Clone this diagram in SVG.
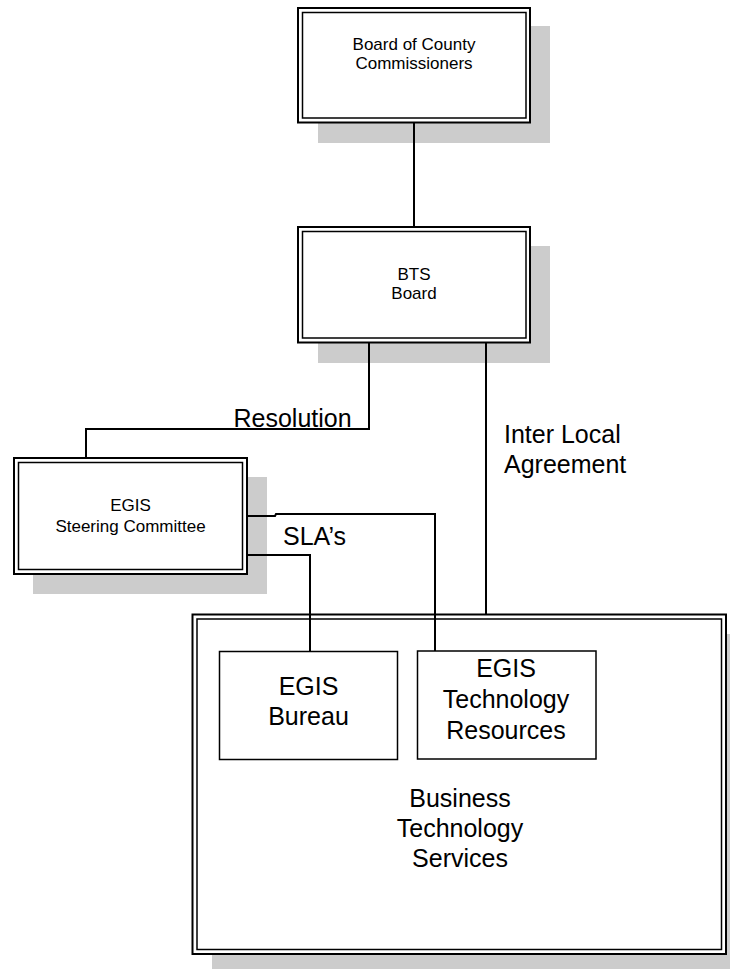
<svg xmlns="http://www.w3.org/2000/svg" width="730" height="969" viewBox="0 0 730 969">
<style>
.bg{fill:#ffffff}
.shadow{fill:#cccccc;stroke:none}
.outer{fill:#ffffff;stroke:#000;stroke-width:2}
.inner{fill:none;stroke:#000;stroke-width:1.5}
.box{fill:#ffffff;stroke:#000;stroke-width:1.5}
.conn{fill:none;stroke:#000;stroke-width:2}
text{font-family:"Liberation Sans",Arial,sans-serif;fill:#000}
.s{font-size:17px;text-anchor:middle}
.l{font-size:25px;text-anchor:middle}
.lab{font-size:25px}
</style>
<rect class="bg" x="0" y="0" width="730" height="969"/>

<g id="board-of-county-commissioners">
<rect class="shadow" x="318" y="26" width="232" height="117"/>
<rect class="outer" x="298" y="8" width="232" height="114.5"/>
<rect class="inner" x="302.5" y="12.5" width="223.5" height="105.5"/>
<text class="s" x="414" y="50">Board of County</text>
<text class="s" x="414" y="69">Commissioners</text>
</g>

<g id="bts-board">
<rect class="shadow" x="318" y="246" width="232" height="117"/>
<rect class="outer" x="298" y="227" width="232" height="115.5"/>
<rect class="inner" x="302.5" y="231.5" width="223.5" height="106.5"/>
<text class="s" x="414" y="280">BTS</text>
<text class="s" x="414" y="299">Board</text>
</g>

<g id="egis-steering-committee">
<rect class="shadow" x="33" y="477" width="234" height="117"/>
<rect class="outer" x="14" y="458" width="233" height="116"/>
<rect class="inner" x="18.5" y="462.5" width="224" height="107"/>
<text class="s" x="130.5" y="511">EGIS</text>
<text class="s" x="130.5" y="532">Steering Committee</text>
</g>

<g id="business-technology-services">
<rect class="shadow" x="212" y="634" width="534" height="340"/>
<rect class="outer" x="192.5" y="614.5" width="533.5" height="339.5"/>
<rect class="inner" x="197" y="619" width="524.5" height="330.5"/>
<text class="l" x="460" y="807">Business</text>
<text class="l" x="460" y="837">Technology</text>
<text class="l" x="460" y="867">Services</text>
</g>

<g id="egis-bureau">
<rect class="box" x="219.5" y="651.5" width="178" height="108"/>
<text class="l" x="308.5" y="695">EGIS</text>
<text class="l" x="308.5" y="725">Bureau</text>
</g>

<g id="egis-technology-resources">
<rect class="box" x="417.5" y="651" width="178.5" height="108"/>
<text class="l" x="506" y="677">EGIS</text>
<text class="l" x="506" y="708">Technology</text>
<text class="l" x="506" y="739">Resources</text>
</g>

<g id="connectors">
<path class="conn" d="M414 122.5 V227"/>
<path class="conn" d="M369 342.5 V429 H86 V458"/>
<path class="conn" d="M486 342.5 V614.5"/>
<path class="conn" d="M247 516 H275 L276 514 H435 V651"/>
<path class="conn" d="M247 555 H310 V651.5"/>
<text class="lab" x="233.5" y="427">Resolution</text>
<text class="lab" x="283" y="545">SLA’s</text>
<text class="lab" x="504" y="443">Inter Local</text>
<text class="lab" x="504" y="473">Agreement</text>
</g>
</svg>
